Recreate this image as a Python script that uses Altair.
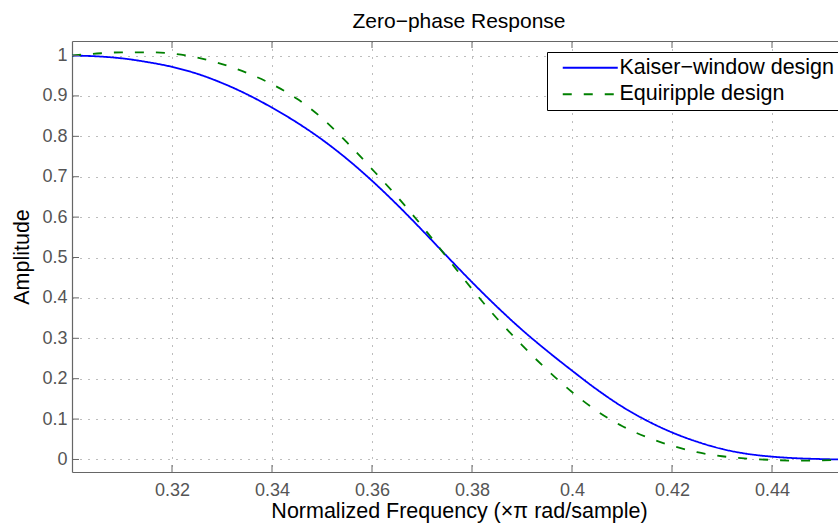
import altair as alt
import pandas as pd

# ---- data ----
freq = [0.300, 0.305, 0.310, 0.315, 0.320, 0.325, 0.330, 0.335, 0.340, 0.345,
        0.350, 0.355, 0.360, 0.365, 0.370, 0.375, 0.380, 0.385, 0.390, 0.395,
        0.400, 0.405, 0.410, 0.415, 0.420, 0.425, 0.430, 0.435, 0.440, 0.445,
        0.450, 0.4533]
kaiser = [1.000, 0.998, 0.993, 0.984, 0.972, 0.955, 0.932, 0.904, 0.871, 0.834,
          0.792, 0.744, 0.690, 0.631, 0.568, 0.503, 0.439, 0.378, 0.321, 0.269,
          0.220, 0.173, 0.131, 0.096, 0.067, 0.044, 0.026, 0.014, 0.007, 0.003,
          0.001, 0.000]
equiripple = [1.000, 1.005, 1.008, 1.008, 1.005, 0.995, 0.979, 0.957, 0.929, 0.893,
              0.845, 0.785, 0.719, 0.651, 0.578, 0.500, 0.422, 0.349, 0.283, 0.222,
              0.167, 0.120, 0.083, 0.055, 0.034, 0.018, 0.008, 0.002, -0.001, -0.003,
              -0.002, -0.001]
series_names = ["Kaiser\u2212window design", "Equiripple design"]
x_ticks = [0.32, 0.34, 0.36, 0.38, 0.40, 0.42, 0.44]
y_ticks = [0, 0.1, 0.2, 0.3, 0.4, 0.5, 0.6, 0.7, 0.8, 0.9, 1.0]

rows = []
for f, k, e in zip(freq, kaiser, equiripple):
    rows.append({"f": f, "a": k, "s": series_names[0]})
    rows.append({"f": f, "a": e, "s": series_names[1]})
df = pd.DataFrame(rows)
xt = pd.DataFrame({"v": x_ticks})
yt = pd.DataFrame({"v": y_ticks})

W, H = 766, 431
FONT = "Liberation Sans"
AX = "#666666"

xscale = alt.Scale(domain=[0.3, 0.4532], nice=False, zero=False)
yscale = alt.Scale(domain=[-0.031, 1.036], nice=False, zero=False)

legend = alt.Legend(orient="none", legendX=475, legendY=11)

lines = alt.Chart(df).mark_line(strokeWidth=1.8, interpolate="monotone", clip=True).encode(
    x=alt.X("f:Q", scale=xscale,
            axis=alt.Axis(values=x_ticks, format="~g", ticks=False, labelPadding=9,
                          title="Normalized Frequency (\u00d7\u03c0 rad/sample)",
                          titleX=387, titleY=45, titleBaseline="alphabetic",
                          titleAnchor="middle", titleAlign="center",
                          grid=True, gridDash=[1, 7], gridColor="#7a7a7a",
                          domainColor=AX)),
    y=alt.Y("a:Q", scale=yscale,
            axis=alt.Axis(values=y_ticks, format="~g", ticks=False, labelPadding=5,
                          title="Amplitude", titleX=-44, titleY=215.5, titleAngle=270,
                          titleBaseline="alphabetic", titleAlign="center",
                          grid=True, gridDash=[1, 7], gridColor="#7a7a7a",
                          domainColor=AX)),
    color=alt.Color("s:N", title=None,
                    scale=alt.Scale(domain=series_names, range=["#0000ff", "#008000"]),
                    legend=legend),
    strokeDash=alt.StrokeDash("s:N", title=None,
                              scale=alt.Scale(domain=series_names, range=[[1, 0], [9, 12]]),
                              legend=legend),
)

bottom_ticks = alt.Chart(xt).mark_rule(color=AX, strokeWidth=1).encode(
    x=alt.X("v:Q", scale=xscale, axis=None),
    y=alt.value(H), y2=alt.value(H - 7))

top_ticks = alt.Chart(xt).mark_rule(color=AX, strokeWidth=1).encode(
    x=alt.X("v:Q", scale=xscale,
            axis=alt.Axis(orient="top", labels=False, ticks=False, grid=False,
                          domain=True, domainColor=AX, title=None,
                          minExtent=0, maxExtent=0)),
    y=alt.value(0), y2=alt.value(7))

left_ticks = alt.Chart(yt).mark_rule(color=AX, strokeWidth=1).encode(
    y=alt.Y("v:Q", scale=yscale, axis=None),
    x=alt.value(0), x2=alt.value(7))

chart = alt.layer(lines, bottom_ticks, top_ticks, left_ticks).resolve_axis(
    x="independent", y="independent"
).properties(
    width=W, height=H,
    title=alt.TitleParams("Zero\u2212phase Response", font=FONT, fontSize=21,
                          fontWeight="normal", color="black", baseline="alphabetic",
                          offset=-8, dx=4, anchor="middle"),
    autosize=alt.AutoSizeParams(type="none"),
    padding={"left": 72, "top": 41, "right": 0, "bottom": 52},
).configure_view(stroke=None).configure_axis(
    labelFont=FONT, labelFontSize=18, labelColor="#555555",
    titleFont=FONT, titleFontSize=21.5, titleColor="black", titleFontWeight="normal",
    domainWidth=1.2,
).configure_legend(
    labelFont=FONT, labelFontSize=21.5, labelColor="black",
    symbolType="M0,0H9.1667", symbolSize=144, symbolStrokeWidth=1.8,
    strokeColor="black", fillColor="white", padding=5, cornerRadius=0,
    labelOffset=46, rowPadding=3.5, labelLimit=400,
)

chart.save("out.html", embed_options={"renderer": "svg", "actions": False})
